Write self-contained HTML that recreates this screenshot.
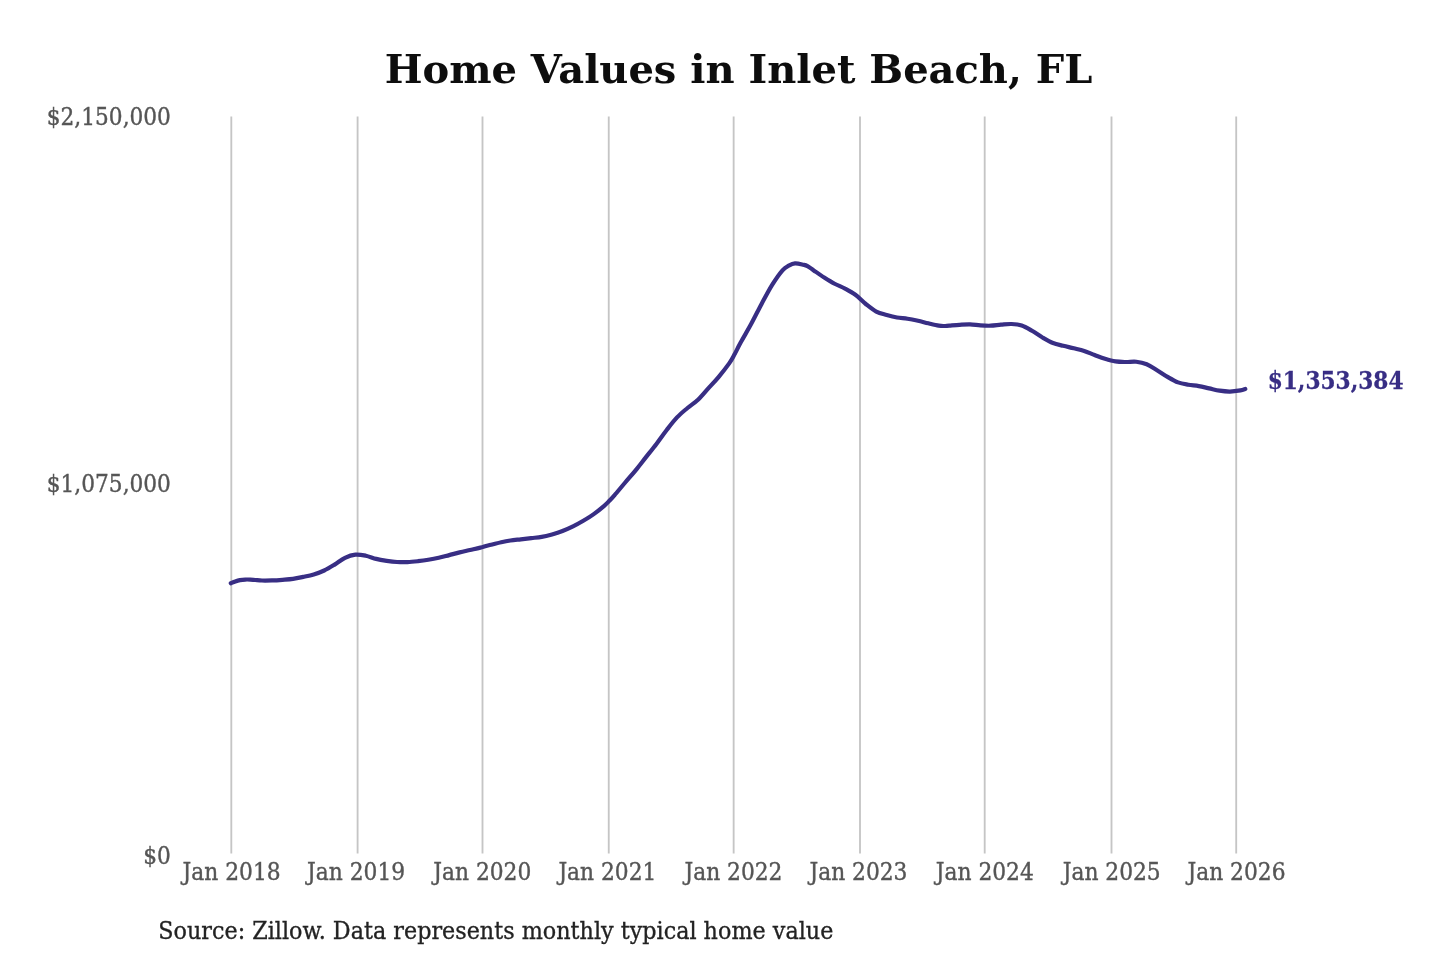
<!DOCTYPE html>
<html lang="en">
<head>
<meta charset="utf-8">
<title>Home Values in Inlet Beach, FL</title>
<style>
html,body{margin:0;padding:0;background:#ffffff;}
body{width:1440px;height:960px;overflow:hidden;}
svg{display:block;}
text{font-family:"DejaVu Serif","Liberation Serif",serif;}
.c,.c text{font-family:"DejaVu Serif Condensed","DejaVu Serif","Liberation Serif",serif;font-stretch:condensed;}
</style>
</head>
<body>
<svg width="1440" height="960" viewBox="0 0 1440 960">
<rect x="0" y="0" width="1440" height="960" fill="#ffffff"/>
<g stroke="#c5c5c5" stroke-width="1.85" fill="none">
<line x1="231.3" y1="116.5" x2="231.3" y2="853.6"/>
<line x1="357.6" y1="116.5" x2="357.6" y2="853.6"/>
<line x1="482.5" y1="116.5" x2="482.5" y2="853.6"/>
<line x1="608.75" y1="116.5" x2="608.75" y2="853.6"/>
<line x1="733.65" y1="116.5" x2="733.65" y2="853.6"/>
<line x1="860.0" y1="116.5" x2="860.0" y2="853.6"/>
<line x1="984.7" y1="116.5" x2="984.7" y2="853.6"/>
<line x1="1111.5" y1="116.5" x2="1111.5" y2="853.6"/>
<line x1="1236.2" y1="116.5" x2="1236.2" y2="853.6"/>
</g>
<defs><filter id="soft" filterUnits="userSpaceOnUse" x="0" y="0" width="1440" height="960"><feGaussianBlur stdDeviation="0.45"/></filter></defs>
<g filter="url(#soft)">
<text x="738.5" y="83.3" font-size="40" font-weight="bold" text-anchor="middle" fill="#0a0a0a">Home Values in Inlet Beach, FL</text>
<g class="c" font-size="23.5" fill="#555555" stroke="#555555" stroke-width="0.35" text-anchor="end">
<text transform="translate(170.9 124.6) scale(1.026 1)">$2,150,000</text>
<text transform="translate(170.9 492.2) scale(1.026 1)">$1,075,000</text>
<text transform="translate(170.9 864.0) scale(1.026 1)">$0</text>
</g>
<g class="c" font-size="23.5" fill="#555555" stroke="#555555" stroke-width="0.35" text-anchor="middle">
<text transform="translate(231.6 879.5) scale(1.03 1)">Jan 2018</text>
<text transform="translate(356.1 879.5) scale(1.03 1)">Jan 2019</text>
<text transform="translate(482.3 879.5) scale(1.03 1)">Jan 2020</text>
<text transform="translate(607.4 879.5) scale(1.03 1)">Jan 2021</text>
<text transform="translate(733.45 879.5) scale(1.03 1)">Jan 2022</text>
<text transform="translate(858.45 879.5) scale(1.03 1)">Jan 2023</text>
<text transform="translate(984.8 879.5) scale(1.03 1)">Jan 2024</text>
<text transform="translate(1111.7 879.5) scale(1.03 1)">Jan 2025</text>
<text transform="translate(1236.5 879.5) scale(1.03 1)">Jan 2026</text>
</g>
<path d="M230.80 583.30 C231.55 582.98 233.77 581.93 235.30 581.40 C236.83 580.87 238.33 580.41 240.00 580.10 C241.67 579.79 243.58 579.63 245.30 579.55 C247.02 579.47 248.63 579.52 250.30 579.60 C251.97 579.68 253.35 579.85 255.30 580.00 C257.25 580.15 259.22 580.43 262.00 580.50 C264.78 580.57 268.58 580.52 272.00 580.40 C275.42 580.28 279.00 580.05 282.50 579.80 C286.00 579.55 289.53 579.38 293.00 578.90 C296.47 578.42 299.84 577.65 303.30 576.90 C306.76 576.15 310.27 575.47 313.75 574.40 C317.23 573.33 320.72 572.13 324.20 570.50 C327.68 568.87 331.13 566.72 334.60 564.60 C338.07 562.48 341.53 559.47 345.00 557.80 C348.47 556.13 351.93 554.95 355.40 554.60 C358.87 554.25 362.32 554.98 365.80 555.70 C369.28 556.42 372.77 558.05 376.25 558.90 C379.73 559.75 383.24 560.28 386.70 560.80 C390.16 561.32 393.53 561.78 397.00 562.00 C400.47 562.22 404.00 562.23 407.50 562.10 C411.00 561.97 414.53 561.58 418.00 561.20 C421.47 560.82 424.84 560.37 428.30 559.80 C431.76 559.23 435.27 558.58 438.75 557.80 C442.23 557.02 445.72 556.00 449.20 555.10 C452.68 554.20 456.13 553.25 459.60 552.40 C463.07 551.55 466.53 550.80 470.00 550.00 C473.47 549.20 476.93 548.47 480.40 547.60 C483.87 546.73 487.32 545.70 490.80 544.80 C494.28 543.90 497.98 542.92 501.25 542.20 C504.52 541.48 507.14 540.98 510.40 540.50 C513.66 540.02 517.32 539.70 520.80 539.30 C524.27 538.90 527.77 538.50 531.25 538.10 C534.73 537.70 538.24 537.52 541.70 536.90 C545.16 536.28 548.53 535.38 552.00 534.40 C555.47 533.42 559.00 532.33 562.50 531.00 C566.00 529.67 569.53 528.10 573.00 526.40 C576.47 524.70 579.84 522.85 583.30 520.80 C586.76 518.75 590.27 516.60 593.75 514.10 C597.23 511.60 601.59 508.02 604.20 505.80 C606.81 503.58 607.67 502.58 609.40 500.80 C611.13 499.02 612.00 498.11 614.60 495.10 C617.20 492.09 621.53 486.83 625.00 482.75 C628.47 478.67 631.93 474.83 635.40 470.60 C638.87 466.38 642.32 461.80 645.80 457.40 C649.27 453.00 652.77 448.77 656.25 444.20 C659.73 439.63 663.24 434.47 666.70 430.00 C670.16 425.53 673.53 421.07 677.00 417.40 C680.47 413.73 684.00 410.95 687.50 408.00 C691.00 405.05 694.53 402.97 698.00 399.70 C701.47 396.43 704.84 392.22 708.30 388.40 C711.76 384.58 715.27 380.97 718.75 376.80 C722.23 372.63 726.59 367.10 729.20 363.40 C731.81 359.70 732.47 358.12 734.40 354.60 C736.33 351.08 737.99 347.43 740.80 342.30 C743.61 337.17 747.77 330.23 751.25 323.80 C754.73 317.37 758.24 310.15 761.70 303.70 C765.16 297.25 768.53 290.67 772.00 285.10 C775.47 279.53 779.71 273.53 782.50 270.30 C785.29 267.07 786.67 266.85 788.75 265.70 C790.83 264.55 792.58 263.57 795.00 263.40 C797.42 263.23 801.22 264.25 803.30 264.70 C805.38 265.15 805.76 265.15 807.50 266.10 C809.24 267.05 810.97 268.50 813.75 270.40 C816.53 272.30 820.73 275.27 824.20 277.50 C827.68 279.73 831.13 281.90 834.60 283.75 C838.07 285.60 841.53 286.76 845.00 288.60 C848.47 290.44 851.93 292.23 855.40 294.80 C858.87 297.37 862.32 301.20 865.80 304.00 C869.27 306.80 872.77 309.77 876.25 311.60 C879.73 313.43 883.24 314.02 886.70 315.00 C890.16 315.98 893.53 316.88 897.00 317.50 C900.47 318.12 904.00 318.20 907.50 318.75 C911.00 319.30 914.53 320.04 918.00 320.80 C921.47 321.56 924.84 322.50 928.30 323.30 C931.76 324.10 936.13 325.15 938.75 325.60 C941.37 326.05 942.26 326.00 944.00 326.00 C945.74 326.00 946.60 325.80 949.20 325.60 C951.80 325.40 956.13 325.00 959.60 324.80 C963.07 324.60 966.53 324.30 970.00 324.40 C973.47 324.50 976.97 325.18 980.40 325.40 C983.83 325.62 987.17 325.82 990.60 325.70 C994.03 325.58 997.52 324.98 1001.00 324.70 C1004.48 324.42 1008.05 323.88 1011.50 324.00 C1014.95 324.12 1018.28 324.27 1021.70 325.40 C1025.12 326.53 1028.53 328.78 1032.00 330.80 C1035.47 332.82 1039.00 335.47 1042.50 337.50 C1046.00 339.53 1049.53 341.62 1053.00 343.00 C1056.47 344.38 1059.84 344.92 1063.30 345.80 C1066.76 346.68 1070.27 347.43 1073.75 348.30 C1077.23 349.17 1080.73 349.88 1084.20 351.00 C1087.67 352.12 1091.13 353.71 1094.60 355.00 C1098.07 356.29 1101.53 357.68 1105.00 358.75 C1108.47 359.82 1111.93 360.86 1115.40 361.40 C1118.87 361.94 1122.33 361.94 1125.80 362.00 C1129.27 362.06 1132.77 361.38 1136.25 361.75 C1139.73 362.12 1143.24 362.84 1146.70 364.25 C1150.16 365.66 1153.53 368.09 1157.00 370.20 C1160.47 372.31 1164.00 374.87 1167.50 376.90 C1171.00 378.93 1174.53 381.09 1178.00 382.40 C1181.47 383.71 1184.84 384.13 1188.30 384.75 C1191.76 385.37 1195.27 385.49 1198.75 386.10 C1202.23 386.71 1205.73 387.63 1209.20 388.40 C1212.67 389.17 1216.13 390.17 1219.60 390.70 C1223.07 391.23 1226.53 391.60 1230.00 391.55 C1233.47 391.50 1237.85 390.82 1240.40 390.40 C1242.95 389.97 1244.48 389.23 1245.30 389.00" fill="none" stroke="#372d84" stroke-width="4.2" stroke-linecap="round" stroke-linejoin="round"/>
<text class="c" transform="translate(1267.7 388.6) scale(1.026 1)" font-size="23.5" font-weight="bold" fill="#372d84" stroke="#372d84" stroke-width="0.25">$1,353,384</text>
<text class="c" transform="translate(158.3 938.9) scale(1.0283 1)" font-size="24.1" fill="#222222" stroke="#222222" stroke-width="0.3">Source: Zillow. Data represents monthly typical home value</text>
</g>
</svg>
</body>
</html>
